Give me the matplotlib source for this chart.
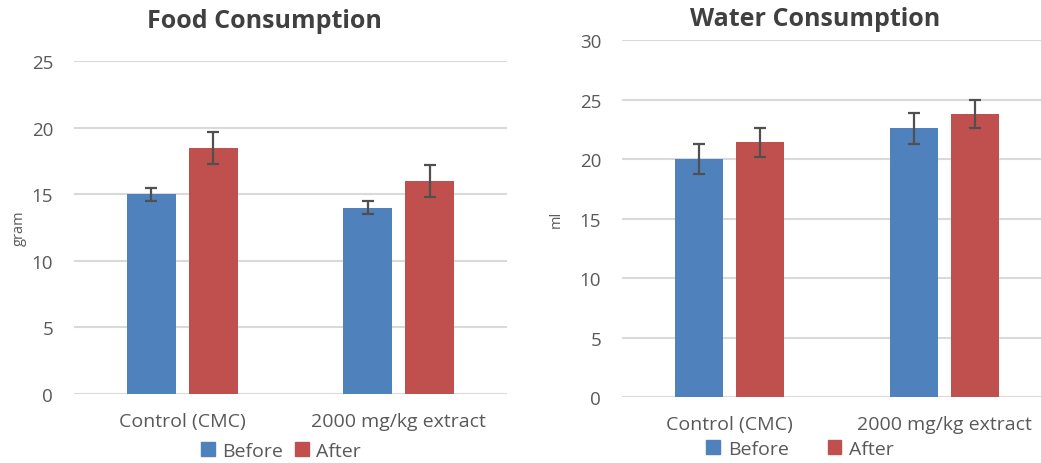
import numpy as np
import matplotlib
matplotlib.use("Agg")
import matplotlib.pyplot as plt
from matplotlib.patches import Patch

plt.rcParams['font.family'] = ['Open Sans', 'DejaVu Sans']

groups = ['Control (CMC)', '2000 mg/kg extract']
series = ['Before', 'After']

food_before = [15.0, 14.0]
food_before_err = [0.5, 0.5]
food_after = [18.5, 16.0]
food_after_err = [1.2, 1.2]

water_before = [20.0, 22.6]
water_before_err = [1.3, 1.3]
water_after = [21.4, 23.8]
water_after_err = [1.2, 1.2]

blue = '#4F81BD'
red = '#C0504D'
grid_col = '#D9D9D9'
text_col = '#595959'
title_col = '#404040'

fig = plt.figure(figsize=(10.41, 4.64), dpi=100)

def draw(ax, before, before_err, after, after_err, ymax, ylabel):
    x = np.arange(len(groups))
    w = 0.225
    off = 0.143
    ax.bar(x - off, before, w, color=blue, zorder=3)
    ax.bar(x + off, after, w, color=red, zorder=3)
    ekw = dict(fmt='none', ecolor='#505050', elinewidth=1.6, capsize=4, capthick=1.6, zorder=4)
    ax.errorbar(x - off, before, yerr=before_err, **ekw)
    ax.errorbar(x + off, after, yerr=after_err, **ekw)
    ax.set_xlim(-0.5, 1.5)
    ax.set_ylim(0, ymax)
    ax.set_yticks(np.arange(0, ymax + 1, 5))
    ax.yaxis.grid(True, color=grid_col, linewidth=1.5, zorder=0)
    for s in ax.spines.values():
        s.set_visible(False)
    ax.tick_params(axis='y', length=0, pad=15, labelsize=13.5, labelcolor=text_col)
    ax.tick_params(axis='x', length=0, pad=13, labelsize=14, labelcolor=text_col)
    ax.set_xticks(x)
    ax.set_xticklabels(groups)
    ax.set_ylabel(ylabel, fontsize=10.5, color=text_col)

ax1 = fig.add_axes([0.0711, 0.1487, 0.4159, 0.7177])
draw(ax1, food_before, food_before_err, food_after, food_after_err, 25, 'gram')
ax1.yaxis.set_label_coords(-0.11, 0.5)
fig.text(264 / 1041, 1 - 21 / 464, 'Food Consumption', ha='center', va='center',
         fontsize=18, fontweight='bold', color=title_col)

ax2 = fig.add_axes([0.5975, 0.1422, 0.4131, 0.7694])
draw(ax2, water_before, water_before_err, water_after, water_after_err, 30, 'ml')
ax2.yaxis.set_label_coords(-0.135, 0.5)
fig.text(815 / 1041, 1 - 20 / 464, 'Water Consumption', ha='center', va='center',
         fontsize=18, fontweight='bold', color=title_col)

handles = [Patch(color=blue), Patch(color=red)]
fig.legend(handles, series, loc='center', bbox_to_anchor=(281 / 1041, 1 - 452 / 464),
           ncol=2, frameon=False, fontsize=14, labelcolor=text_col,
           handlelength=0.7, handleheight=0.7, handletextpad=0.4, columnspacing=0.6)
fig.legend(handles, series, loc='center', bbox_to_anchor=(800 / 1041, 1 - 450 / 464),
           ncol=2, frameon=False, fontsize=14, labelcolor=text_col,
           handlelength=0.7, handleheight=0.7, handletextpad=0.4, columnspacing=2.0)

fig.savefig('out.png', dpi=100)
